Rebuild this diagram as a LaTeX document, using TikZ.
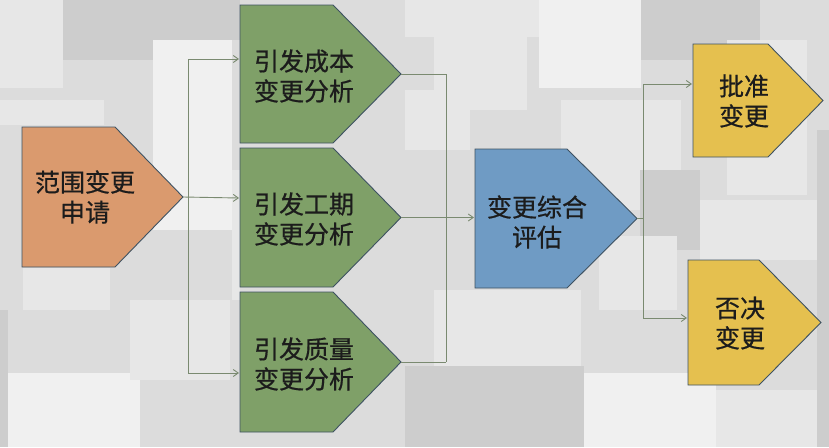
\documentclass[tikz,border=0pt]{standalone}
\usepackage{fontspec}
\newfontfamily\cjk[FakeBold=0.6]{Noto Sans CJK SC}
\usetikzlibrary{arrows.meta}
\definecolor{bgbase}{HTML}{DCDCDC}
\definecolor{bglight}{HTML}{E7E7E7}
\definecolor{bgwhite}{HTML}{F0F0F0}
\definecolor{bgdark}{HTML}{CDCDCD}
\definecolor{edgec}{HTML}{3E5262}
\definecolor{orangef}{HTML}{DA9A6E}
\definecolor{greenf}{HTML}{7FA068}
\definecolor{bluef}{HTML}{6F9BC4}
\definecolor{yellowf}{HTML}{E5C04F}
\definecolor{connc}{HTML}{7A8A70}
\definecolor{txtc}{HTML}{1C1C1C}
\tikzset{
  shapebox/.style={draw=edgec, line width=0.9pt},
  lbl/.style={align=center, text=txtc, inner sep=0pt,
    font=\cjk\fontsize{25}{30}\selectfont},
  conn/.style={draw=connc, line width=0.9pt},
  connarrow/.style={conn, -{Straight Barb[length=5pt,width=7pt]}}
}
% #1 name, #2 left x, #3 top y, #4 bottom y, #5 corner x, #6 tip x, #7 fill
\newcommand\mypent[7]{%
  \path[shapebox, fill=#7] (#2,#3) -- (#5,#3) -- (#6,{(#3+#4)/2}) -- (#5,#4) -- (#2,#4) -- cycle;
  \coordinate (#1-tip) at (#6,{(#3+#4)/2});
}
\begin{document}
\begin{tikzpicture}[x=1pt,y=-1pt]
\useasboundingbox (0,0) rectangle (829,447);
% background
\fill[bgbase] (0,0) rectangle (829,447);
\fill[bglight] (0,0) rectangle (63,88);
\fill[bgdark] (63,0) rectangle (180,60);
\fill[bglight] (0,100) rectangle (104,125);
\fill[bgwhite] (153,40) rectangle (232,230);
\fill[bgdark] (180,0) rectangle (240,40);
\fill[bglight] (232,170) rectangle (240,300);
\fill[bglight] (23,268) rectangle (110,310);
\fill[bgwhite] (8,373) rectangle (140,447);
\fill[bgdark] (0,310) rectangle (8,447);
\fill[bglight] (130,300) rectangle (230,380);
\fill[bglight] (405,0) rectangle (540,37);
\fill[bglight] (434,37) rectangle (527,110);
\fill[bgwhite] (539,0) rectangle (641,88);
\fill[bgdark] (641,0) rectangle (760,60);
\fill[bglight] (561,100) rectangle (681,210);
\fill[bglight] (405,90) rectangle (470,150);
\fill[bglight] (727,40) rectangle (807,195);
\fill[bgdark] (640,170) rectangle (700,250);
\fill[bglight] (700,200) rectangle (817,260);
\fill[bgdark] (817,130) rectangle (829,447);
\fill[bglight] (434,290) rectangle (581,366);
\fill[bglight] (599,236) rectangle (677,310);
\fill[bgdark] (405,366) rectangle (584,447);
\fill[bgwhite] (584,373) rectangle (716,447);
\fill[bglight] (716,390) rectangle (817,447);
% shapes
\mypent{o}{22}{127}{267}{115}{183}{orangef}
\mypent{g1}{240}{5}{143}{333}{401}{greenf}
\mypent{g2}{240}{148}{287}{333}{401}{greenf}
\mypent{g3}{240}{292}{432}{333}{401}{greenf}
\mypent{b}{475}{149}{288}{567}{637}{bluef}
\mypent{y1}{693}{44}{157}{768}{823}{yellowf}
\mypent{y2}{688}{260}{385}{759}{821}{yellowf}
% labels
\node[lbl] (ot) at (85,197) {范围变更\\申请};
\node[lbl] (g1t) at (304,76) {引发成本\\变更分析};
\node[lbl] (g2t) at (304,219) {引发工期\\变更分析};
\node[lbl] (g3t) at (304,364) {引发质量\\变更分析};
\node[lbl] (bt) at (537,222) {变更综合\\评估};
\node[lbl] (y1t) at (744,101) {批准\\变更};
\node[lbl] (y2t) at (740,323) {否决\\变更};
% connector points
\coordinate (s-top) at (188,59);
\coordinate (s-bot) at (188,373);
\coordinate (g1-in) at (239,59);
\coordinate (g2-in) at (239,198);
\coordinate (g3-in) at (239,373);
\coordinate (m-top) at (446,74);
\coordinate (m-bot) at (446,362);
\coordinate (b-in) at (474,217.5);
\coordinate (r-top) at (643,84);
\coordinate (r-mid) at (643,218.5);
\coordinate (r-bot) at (643,318);
\coordinate (y1-in) at (692,84);
\coordinate (y2-in) at (687,318);
% connectors
\draw[connarrow] (o-tip) -- (g2-in);
\draw[conn] (s-top) -- (s-bot);
\draw[connarrow] (s-top) -- (g1-in);
\draw[connarrow] (s-bot) -- (g3-in);
\draw[conn] (g1-tip) -- (m-top) -- (m-bot);
\draw[conn] (g3-tip) -- (m-bot);
\draw[connarrow] (g2-tip) -- (b-in);
\draw[conn] (b-tip) -- (r-mid);
\draw[conn] (r-top) -- (r-bot);
\draw[connarrow] (r-top) -- (y1-in);
\draw[connarrow] (r-bot) -- (y2-in);
\end{tikzpicture}
\end{document}
